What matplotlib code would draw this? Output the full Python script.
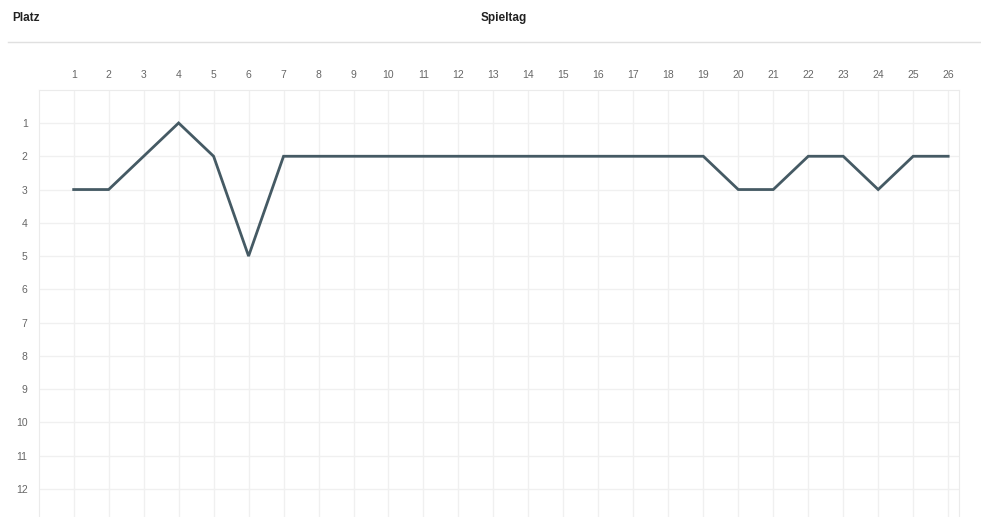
import matplotlib.pyplot as plt
from matplotlib.lines import Line2D

plt.rcParams['font.family'] = ['Liberation Sans', 'DejaVu Sans']

spieltag = list(range(1, 27))
platz = [3, 3, 2, 1, 2, 5, 2, 2, 2, 2, 2, 2, 2, 2, 2, 2, 2, 2, 2, 3, 3, 2, 2, 3, 2, 2]
y_ticks = list(range(1, 13))

fig = plt.figure(figsize=(9.81, 5.17), dpi=100)
W, H = 981, 517

ax = fig.add_axes([38.7 / W, 0, (959 - 38.7) / W, (H - 89.7) / H])
ax.plot(spieltag, platz, color='#455a64', linewidth=2, solid_joinstyle='miter')

ax.set_xlim(0, 26.31)
ax.set_ylim(12.84, 0)
ax.set_xticks(spieltag)
ax.set_yticks(y_ticks)
ax.xaxis.tick_top()
ax.tick_params(axis='both', length=0, labelsize=7.5, labelcolor='#666666')
ax.tick_params(axis='x', pad=7)
ax.tick_params(axis='y', pad=8)
ax.grid(True, color='#f0f0f0', linewidth=1)
ax.set_axisbelow(True)
for side in ['top', 'left', 'right']:
    ax.spines[side].set_color('#ebebeb')
ax.spines['bottom'].set_visible(False)

fig.text(12 / W, 1 - 18 / H, 'Platz', fontsize=8.5, fontweight='bold', color='#222222', va='center')
fig.text(504 / W, 1 - 18 / H, 'Spieltag', fontsize=8.5, fontweight='bold', color='#222222', va='center', ha='center')
fig.add_artist(Line2D([8 / W, 980 / W], [1 - 42 / H, 1 - 42 / H], color='#e0e0e0', linewidth=1))

fig.savefig('out.png', dpi=100)
